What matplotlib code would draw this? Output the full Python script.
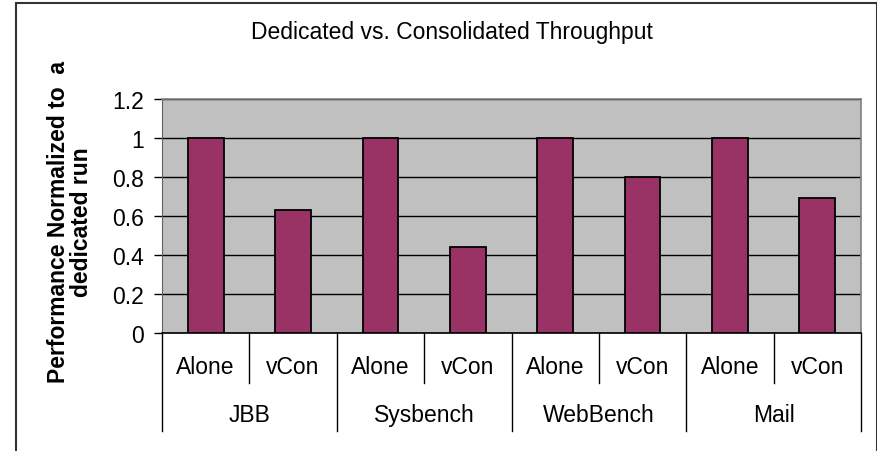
import matplotlib.pyplot as plt
import matplotlib.patches as patches
import numpy as np

plt.rcParams['font.family'] = ['Liberation Sans', 'DejaVu Sans']

# data
groups = ["JBB", "Sysbench", "WebBench", "Mail"]
runs = ["Alone", "vCon"]
alone = [1.0, 1.0, 1.0, 1.0]
vcon = [0.63, 0.44, 0.80, 0.69]
yticks = [0, 0.2, 0.4, 0.6, 0.8, 1, 1.2]
ytick_labels = ["0", "0.2", "0.4", "0.6", "0.8", "1", "1.2"]

W, H = 878, 452
fs = 16.5
fig = plt.figure(figsize=(W / 100, H / 100), dpi=100)

# plot area in pixels
left, right, top, bottom = 162, 861, 100, 334
ax = fig.add_axes([left / W, 1 - bottom / H, (right - left) / W, (bottom - top) / H])

values = []
for a, v in zip(alone, vcon):
    values += [a, v]
x = np.arange(len(values))

ax.set_facecolor('#C0C0C0')
ax.bar(x, values, width=0.41, color='#993366', edgecolor='black', linewidth=1.3, zorder=3)

ax.set_xlim(-0.5, len(values) - 0.5)
ax.set_ylim(0, 1.2)
ax.set_yticks(yticks)
ax.set_yticklabels(ytick_labels, fontsize=fs)
ax.tick_params(axis='y', direction='out', length=6, width=1, pad=7, colors='black')
ax.set_xticks([])
ax.yaxis.grid(True, color='black', linewidth=1, zorder=1)
ax.set_axisbelow(True)

for s in ['top', 'right']:
    ax.spines[s].set_color('#808080')
    ax.spines[s].set_linewidth(1.2)
ax.spines['left'].set_color('#606060')
ax.spines['bottom'].set_color('black')
ax.spines['bottom'].set_linewidth(1.2)

# two-level category axis
trans = ax.get_xaxis_transform()
ph = bottom - top
short_y = -50 / ph
long_y = -98 / ph
for i in range(len(values) + 1):
    xb = i - 0.5
    yend = long_y if i % 2 == 0 else short_y
    ax.plot([xb, xb], [0, yend], color='black', linewidth=1, transform=trans, clip_on=False)
for i, v in enumerate(values):
    ax.text(i, -34 / ph, runs[i % 2], transform=trans, ha='center', va='center', fontsize=fs)
for g, name in enumerate(groups):
    ax.text(2 * g + 0.5, -82 / ph, name, transform=trans, ha='center', va='center', fontsize=fs)

# title and y label
fig.text(452 / W, 1 - 32 / H, "Dedicated vs. Consolidated Throughput", ha='center', va='center', fontsize=fs)
fig.text(70 / W, 1 - 222 / H, "Performance Normalized to  a\ndedicated run", rotation=90,
         ha='center', va='center', fontsize=fs, fontweight='bold', multialignment='center',
         linespacing=1.0)

# chart frame
frame = patches.Rectangle((16 / W, -0.05), (877 - 16) / W, 1.05 - 4 / H, transform=fig.transFigure,
                          fill=False, edgecolor='#333333', linewidth=1.5)
fig.patches.append(frame)

fig.savefig('out.png', dpi=100)
